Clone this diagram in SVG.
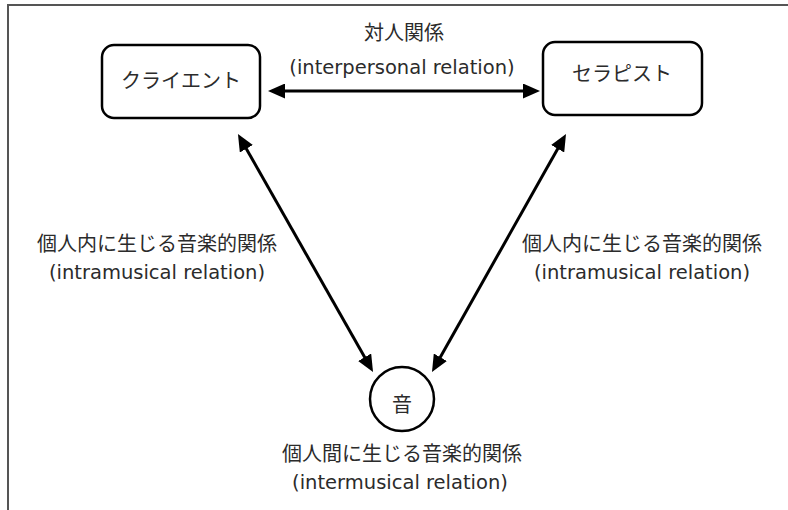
<svg xmlns="http://www.w3.org/2000/svg" width="788" height="510" viewBox="0 0 788 510">
<style>
text{font-family:"DejaVu Sans","Noto Sans CJK JP",sans-serif;fill:#2b2b2b;text-anchor:middle}
.j{font-size:20px}
.l{font-size:19.5px}
.node{fill:#fff;stroke:#000;stroke-width:2.5}
.conn{stroke:#000;stroke-width:3;fill:none;marker-start:url(#ah);marker-end:url(#ah)}
</style>
<defs>
<marker id="ah" markerUnits="userSpaceOnUse" markerWidth="17" markerHeight="15" refX="7" refY="7.5" orient="auto-start-reverse">
<path d="M0,0 L17,7.5 L0,15 z" fill="#000"/>
</marker>
</defs>
<rect width="788" height="510" fill="#fff"/>
<path d="M8,510 L8,5 L788,5" fill="none" stroke="#555" stroke-width="2"/>
<g id="connectors">
<line class="conn" x1="278" y1="91" x2="530" y2="91"/>
<line class="conn" x1="242.9" y1="142.7" x2="368.1" y2="363.3"/>
<line class="conn" x1="561.1" y1="142.7" x2="436.9" y2="363.3"/>
</g>
<g id="client">
<rect class="node" x="102" y="45" width="158" height="73" rx="12"/>
<text class="j" x="181" y="88">クライエント</text>
</g>
<g id="therapist">
<rect class="node" x="543" y="42" width="159" height="73" rx="12"/>
<text class="j" x="622" y="81">セラピスト</text>
</g>
<g id="sound">
<circle class="node" cx="402" cy="399" r="32"/>
<text class="j" x="402" y="412">音</text>
</g>
<g id="labels">
<text class="j" x="404" y="40">対人関係</text>
<text class="l" x="402" y="74">(interpersonal relation)</text>
<text class="j" x="157" y="251">個人内に生じる音楽的関係</text>
<text class="l" x="157" y="279">(intramusical relation)</text>
<text class="j" x="642" y="251">個人内に生じる音楽的関係</text>
<text class="l" x="642" y="279">(intramusical relation)</text>
<text class="j" x="402" y="461">個人間に生じる音楽的関係</text>
<text class="l" x="400" y="489">(intermusical relation)</text>
</g>
</svg>
